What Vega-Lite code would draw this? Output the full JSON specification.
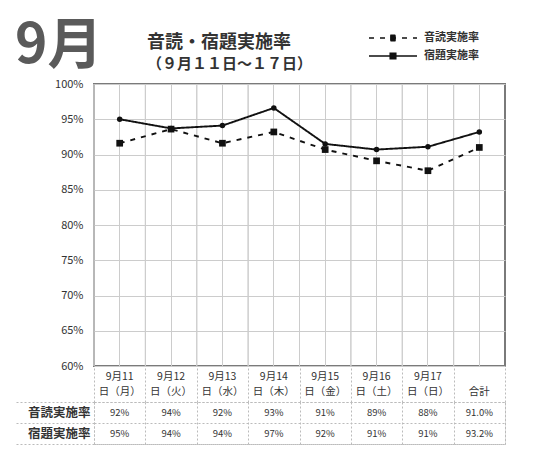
{
  "$schema": "https://vega.github.io/schema/vega-lite/v6.json",
  "padding": {"left": 15, "top": 19, "right": 10, "bottom": 10},
  "background": "white",
  "title": {"text": "9月", "anchor": "start", "frame": "bounds", "fontSize": 55, "font": "Noto Sans CJK JP", "fontWeight": "bold", "offset": -44, "color": "#5a5a5a"},
  "config": {
    "font": "Noto Sans CJK JP"
  },
  "datasets": {
    "rates": [
      {"日付": "9月11日（月）", "系列": "音読実施率", "値": 91.6},
      {"日付": "9月12日（火）", "系列": "音読実施率", "値": 93.6},
      {"日付": "9月13日（水）", "系列": "音読実施率", "値": 91.6},
      {"日付": "9月14日（木）", "系列": "音読実施率", "値": 93.2},
      {"日付": "9月15日（金）", "系列": "音読実施率", "値": 90.7},
      {"日付": "9月16日（土）", "系列": "音読実施率", "値": 89.1},
      {"日付": "9月17日（日）", "系列": "音読実施率", "値": 87.7},
      {"日付": "合計", "系列": "音読実施率", "値": 91.0},
      {"日付": "9月11日（月）", "系列": "宿題実施率", "値": 95.0},
      {"日付": "9月12日（火）", "系列": "宿題実施率", "値": 93.7},
      {"日付": "9月13日（水）", "系列": "宿題実施率", "値": 94.1},
      {"日付": "9月14日（木）", "系列": "宿題実施率", "値": 96.6},
      {"日付": "9月15日（金）", "系列": "宿題実施率", "値": 91.5},
      {"日付": "9月16日（土）", "系列": "宿題実施率", "値": 90.7},
      {"日付": "9月17日（日）", "系列": "宿題実施率", "値": 91.1},
      {"日付": "合計", "系列": "宿題実施率", "値": 93.2}
    ],
    "table": [
      {"日付": "9月11日（月）", "系列": "音読実施率", "表示": "92%"},
      {"日付": "9月12日（火）", "系列": "音読実施率", "表示": "94%"},
      {"日付": "9月13日（水）", "系列": "音読実施率", "表示": "92%"},
      {"日付": "9月14日（木）", "系列": "音読実施率", "表示": "93%"},
      {"日付": "9月15日（金）", "系列": "音読実施率", "表示": "91%"},
      {"日付": "9月16日（土）", "系列": "音読実施率", "表示": "89%"},
      {"日付": "9月17日（日）", "系列": "音読実施率", "表示": "88%"},
      {"日付": "合計", "系列": "音読実施率", "表示": "91.0%"},
      {"日付": "9月11日（月）", "系列": "宿題実施率", "表示": "95%"},
      {"日付": "9月12日（火）", "系列": "宿題実施率", "表示": "94%"},
      {"日付": "9月13日（水）", "系列": "宿題実施率", "表示": "94%"},
      {"日付": "9月14日（木）", "系列": "宿題実施率", "表示": "97%"},
      {"日付": "9月15日（金）", "系列": "宿題実施率", "表示": "92%"},
      {"日付": "9月16日（土）", "系列": "宿題実施率", "表示": "91%"},
      {"日付": "9月17日（日）", "系列": "宿題実施率", "表示": "91%"},
      {"日付": "合計", "系列": "宿題実施率", "表示": "93.2%"}
    ]
  },
  "bounds": "flush",
  "spacing": 36,
  "vconcat": [
    {
      "width": 411,
      "height": 282,
      "view": {"stroke": "#7a7a7a", "strokeWidth": 2},
      "title": {"text": "音読・宿題実施率", "subtitle": "（９月１１日～１７日）", "anchor": "start", "frame": "group", "dx": 53, "fontSize": 18, "fontWeight": "bold", "color": "#333333", "subtitleFontSize": 15, "subtitleFontWeight": "bold", "subtitleColor": "#333333", "subtitlePadding": 5, "offset": 6},
      "data": {"name": "rates"},
      "encoding": {
        "x": {"field": "日付", "type": "nominal",
          "scale": {"domain": ["9月11日（月）","9月12日（火）","9月13日（水）","9月14日（木）","9月15日（金）","9月16日（土）","9月17日（日）","合計"], "paddingInner": 0, "paddingOuter": 0},
          "axis": {"title": null, "labelAngle": 0, "labelExpr": "datum.label == '合計' ? ['', '合計'] : [substring(datum.label, 0, 4), substring(datum.label, 4)]", "labelFontSize": 10.5, "labelLineHeight": 15, "labelPadding": 5, "labelColor": "#333333", "ticks": false, "domain": false, "grid": true, "gridColor": "#cccccc"}}
      },
      "layer": [
        {
          "mark": {"type": "rule", "color": "#cccccc", "strokeWidth": 1},
          "encoding": {"x": {"field": "日付", "type": "nominal", "bandPosition": 0}}
        },
        {
          "mark": {"type": "line", "color": "#111111", "strokeWidth": 1.9},
          "encoding": {
            "y": {"field": "値", "type": "quantitative", "scale": {"domain": [60, 100]},
              "axis": {"title": null, "values": [60, 65, 70, 75, 80, 85, 90, 95, 100], "labelExpr": "datum.value + '%'", "grid": true, "gridColor": "#cccccc", "ticks": false, "domain": false, "labelFontSize": 11, "labelPadding": 11, "labelColor": "#333333"}},
            "strokeDash": {"field": "系列", "type": "nominal",
              "scale": {"domain": ["音読実施率", "宿題実施率"], "range": [[5, 6], [1, 0]]},
              "legend": {"orient": "none", "legendX": 292, "legendY": -53, "title": null, "labelFontSize": 11, "labelFontWeight": "bold", "labelColor": "#333333",
                "symbolType": "M-4,0H4M-0.45,-0.45H0.45V0.45H-0.45ZM-0.45,-0.22H0.45M-0.45,0H0.45M-0.45,0.22H0.45",
                "symbolSize": 144, "symbolStrokeWidth": 1.7, "symbolStrokeColor": "#111111", "symbolFillColor": "#111111", "labelOffset": 24, "rowPadding": 4}}
          }
        },
        {
          "transform": [{"filter": "datum['系列'] === '音読実施率'"}],
          "mark": {"type": "point", "filled": true, "shape": "square", "size": 45, "color": "#111111", "opacity": 1},
          "encoding": {
            "y": {"field": "値", "type": "quantitative", "scale": {"domain": [60, 100]},
              "axis": {"title": null, "values": [60, 65, 70, 75, 80, 85, 90, 95, 100], "labelExpr": "datum.value + '%'", "grid": true, "gridColor": "#cccccc", "ticks": false, "domain": false, "labelFontSize": 11, "labelPadding": 11, "labelColor": "#333333"}}
          }
        },
        {
          "transform": [{"filter": "datum['系列'] === '宿題実施率'"}],
          "mark": {"type": "point", "filled": true, "shape": "circle", "size": 30, "color": "#111111", "opacity": 1},
          "encoding": {
            "y": {"field": "値", "type": "quantitative", "scale": {"domain": [60, 100]},
              "axis": {"title": null, "values": [60, 65, 70, 75, 80, 85, 90, 95, 100], "labelExpr": "datum.value + '%'", "grid": true, "gridColor": "#cccccc", "ticks": false, "domain": false, "labelFontSize": 11, "labelPadding": 11, "labelColor": "#333333"}}
          }
        }
      ]
    },
    {
      "width": 411,
      "height": 42,
      "data": {"name": "table"},
      "view": {"stroke": "#bbbbbb", "strokeDash": [2, 2]},
      "mark": {"type": "text", "fontSize": 9.5, "color": "#333333"},
      "encoding": {
        "x": {"field": "日付", "type": "nominal",
          "scale": {"domain": ["9月11日（月）","9月12日（火）","9月13日（水）","9月14日（木）","9月15日（金）","9月16日（土）","9月17日（日）","合計"], "paddingInner": 0, "paddingOuter": 0},
          "axis": {"orient": "top", "title": null, "labels": false, "domain": false, "ticks": true, "tickBand": "extent", "tickSize": 36, "tickColor": "#bbbbbb", "tickDash": [2, 2], "grid": true, "gridColor": "#bbbbbb", "gridDash": [2, 2]}},
        "y": {"field": "系列", "type": "nominal",
          "scale": {"domain": ["音読実施率", "宿題実施率"], "paddingInner": 0, "paddingOuter": 0},
          "axis": {"title": null, "domain": false, "ticks": true, "tickBand": "extent", "tickSize": 78, "tickColor": "#bbbbbb", "tickDash": [2, 2], "grid": true, "gridColor": "#bbbbbb", "gridDash": [2, 2], "labelPadding": -74, "labelFontSize": 12.5, "labelFontWeight": "bold", "labelColor": "#333333"}},
        "text": {"field": "表示"}
      }
    }
  ]
}
